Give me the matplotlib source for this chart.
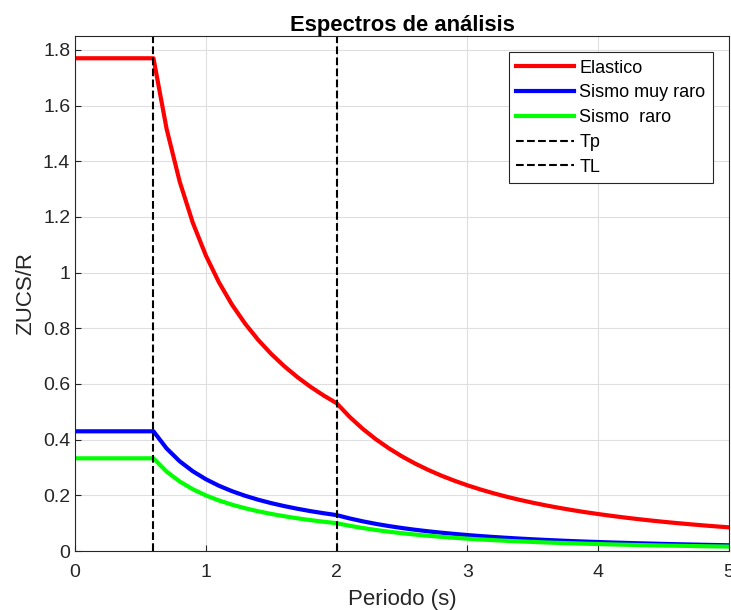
import matplotlib.pyplot as plt

# Periodos (s)
periodos = [0.0, 0.1, 0.2, 0.3, 0.4, 0.5, 0.6, 0.7, 0.8, 0.9, 1.0,
            1.1, 1.2, 1.3, 1.4, 1.5, 1.6, 1.7, 1.8, 1.9, 2.0,
            2.1, 2.2, 2.3, 2.4, 2.5, 2.6, 2.7, 2.8, 2.9, 3.0,
            3.1, 3.2, 3.3, 3.4, 3.5, 3.6, 3.7, 3.8, 3.9, 4.0,
            4.1, 4.2, 4.3, 4.4, 4.5, 4.6, 4.7, 4.8, 4.9, 5.0]

elastico = [1.77, 1.77, 1.77, 1.77, 1.77, 1.77, 1.77, 1.517, 1.3275, 1.18, 1.062,
            0.9655, 0.885, 0.817, 0.7586, 0.708, 0.6638, 0.6247, 0.59, 0.5589, 0.531,
            0.4816, 0.4388, 0.4015, 0.3688, 0.3398, 0.3142, 0.2914, 0.2709, 0.2526, 0.236,
            0.2210, 0.2074, 0.1950, 0.1837, 0.1734, 0.1639, 0.1552, 0.1471, 0.1396, 0.1328,
            0.1264, 0.1204, 0.1149, 0.1097, 0.1049, 0.1004, 0.0962, 0.0922, 0.0885, 0.0850]

muy_raro = [0.43, 0.43, 0.43, 0.43, 0.43, 0.43, 0.43, 0.3686, 0.3225, 0.2867, 0.258,
            0.2345, 0.215, 0.1985, 0.1843, 0.172, 0.1613, 0.1518, 0.1433, 0.1358, 0.129,
            0.1170, 0.1066, 0.0975, 0.0896, 0.0826, 0.0763, 0.0708, 0.0658, 0.0614, 0.0573,
            0.0537, 0.0504, 0.0474, 0.0446, 0.0421, 0.0398, 0.0377, 0.0357, 0.0339, 0.0323,
            0.0307, 0.0293, 0.0279, 0.0267, 0.0255, 0.0244, 0.0234, 0.0224, 0.0215, 0.0206]

raro = [0.333, 0.333, 0.333, 0.333, 0.333, 0.333, 0.333, 0.2854, 0.2498, 0.222, 0.1998,
        0.1816, 0.1665, 0.1537, 0.1427, 0.1332, 0.1249, 0.1175, 0.111, 0.1052, 0.0999,
        0.0906, 0.0826, 0.0755, 0.0694, 0.0639, 0.0591, 0.0548, 0.0510, 0.0475, 0.0444,
        0.0416, 0.0390, 0.0367, 0.0346, 0.0326, 0.0308, 0.0292, 0.0277, 0.0263, 0.0250,
        0.0238, 0.0227, 0.0216, 0.0206, 0.0197, 0.0189, 0.0181, 0.0173, 0.0166, 0.0160]

Tp = 0.6
TL = 2.0

plt.rcParams['font.family'] = ['Liberation Sans', 'DejaVu Sans']
plt.rcParams['font.size'] = 14

fig = plt.figure(figsize=(7.31, 6.10), dpi=100)
ax = fig.add_axes([0.1026, 0.0967, 0.8947, 0.8443])

ax.plot(periodos, elastico, color='#ff0000', lw=3, label='Elastico')
ax.plot(periodos, muy_raro, color='#0000ff', lw=3, label='Sismo muy raro')
ax.plot(periodos, raro, color='#00ff00', lw=3, label='Sismo  raro')
ax.axvline(Tp, color='black', ls='--', lw=1.5, label='Tp')
ax.axvline(TL, color='black', ls='--', lw=1.5, label='TL')

ax.set_xlim(0, 5)
ax.set_ylim(0, 1.85)
ax.set_xticks([0, 1, 2, 3, 4, 5])
ax.set_yticks([0, 0.2, 0.4, 0.6, 0.8, 1.0, 1.2, 1.4, 1.6, 1.8])
ax.set_yticklabels(['0', '0.2', '0.4', '0.6', '0.8', '1', '1.2', '1.4', '1.6', '1.8'])

ax.grid(True, color='#dfdfdf', lw=0.8)
ax.set_axisbelow(True)
for s in ax.spines.values():
    s.set_color('#262626')
    s.set_linewidth(0.8)
ax.tick_params(direction='in', colors='#262626', length=4, labelsize=14)
ax.tick_params(axis='x', pad=9)

ax.set_title('Espectros de análisis', fontsize=15.8, fontweight='bold', pad=3.5)
ax.set_xlabel('Periodo (s)', fontsize=16, color='#262626', labelpad=6)
ax.set_ylabel('ZUCS/R', fontsize=16, color='#262626', labelpad=5)

# Leyenda arriba a la derecha
leg = ax.legend(loc='upper right', bbox_to_anchor=(0.9755, 0.969), borderaxespad=0,
                fancybox=False, edgecolor='#262626', framealpha=1, fontsize=13,
                handlelength=3.2, labelspacing=0.43, handletextpad=0.3,
                borderpad=0.42)
leg.get_frame().set_linewidth(0.8)

fig.savefig('out.png', dpi=100)
